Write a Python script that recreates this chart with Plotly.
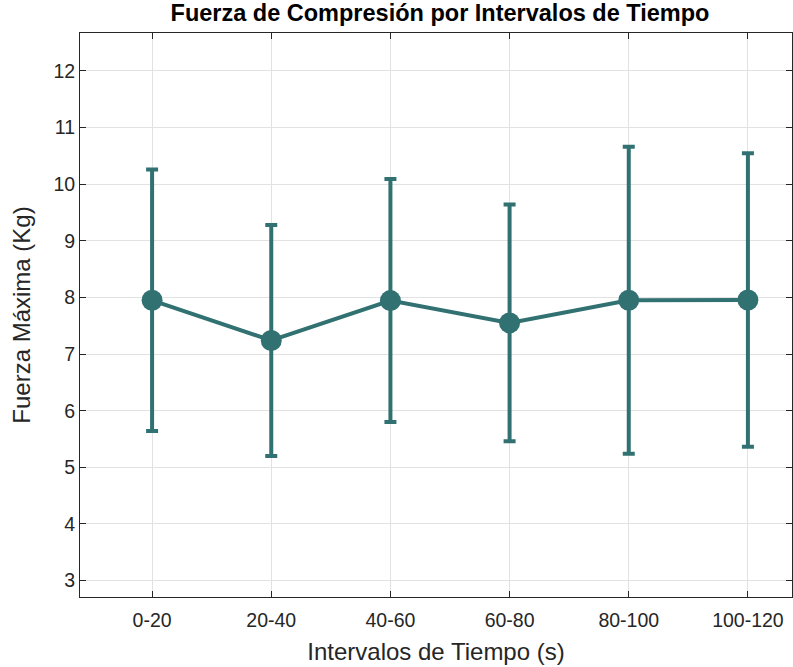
import plotly.graph_objects as go

categories = ["0-20", "20-40", "40-60", "60-80", "80-100", "100-120"]
means = [7.95, 7.24, 7.945, 7.55, 7.95, 7.955]
errors = [2.31, 2.04, 2.145, 2.09, 2.71, 2.59]
y_ticks = [3, 4, 5, 6, 7, 8, 9, 10, 11, 12]

color = "#317171"
xpos = list(range(1, len(categories) + 1))

fig = go.Figure()
fig.add_trace(go.Scatter(
    x=xpos, y=means, mode="lines+markers",
    line=dict(color=color, width=4),
    marker=dict(color=color, size=21),
    error_y=dict(type="data", array=errors, visible=True, color=color, thickness=4, width=6),
    showlegend=False,
))

family = "Liberation Sans, Arial, Helvetica, sans-serif"
tick_font = dict(family=family, size=19.5, color="#262626")
fig.update_layout(
    width=793, height=667,
    margin=dict(l=80, r=1, t=33, b=70),
    paper_bgcolor="white", plot_bgcolor="white",
    title=dict(text="<b>Fuerza de Compresión por Intervalos de Tiempo</b>",
               x=440 / 793, xanchor="center", xref="container",
               y=1 - 13 / 667, yanchor="middle", yref="container",
               font=dict(family=family, size=23.5, color="#000000")),
    font=dict(family=family, color="#262626"),
)
fig.update_xaxes(
    tickmode="array", tickvals=xpos, ticktext=categories,
    range=[0.395, 6.37],
    showgrid=True, gridcolor="#e2e2e2", gridwidth=1,
    showline=True, linecolor="#262626", linewidth=1, mirror="ticks",
    ticks="inside", ticklen=6, tickcolor="#262626",
    ticklabelstandoff=6,
    zeroline=False, automargin=False,
    title=dict(text="Intervalos de Tiempo (s)", font=dict(family=family, size=24, color="#262626"), standoff=12),
    tickfont=tick_font,
)
fig.update_yaxes(
    tickmode="array", tickvals=y_ticks,
    range=[2.71, 12.67],
    showgrid=True, gridcolor="#e2e2e2", gridwidth=1,
    showline=True, linecolor="#262626", linewidth=1, mirror="ticks",
    ticks="inside", ticklen=6, tickcolor="#262626",
    zeroline=False, automargin=False,
    title=dict(text="Fuerza Máxima (Kg)", font=dict(family=family, size=24, color="#262626"), standoff=15),
    tickfont=tick_font,
)

fig.write_html("out.html", config={"displayModeBar": False},
               post_script="document.body.style.margin='0';")
